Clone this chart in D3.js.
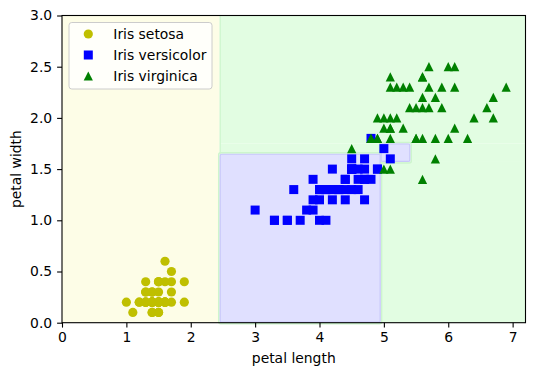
<!DOCTYPE html>
<html>
<head>
<meta charset="utf-8">
<script src="https://cdn.jsdelivr.net/npm/d3@7"></script>
<style>
  body { margin: 0; background: #fff; }
  text { font-family: "DejaVu Sans", sans-serif; fill: #000; }
</style>
</head>
<body>
<div id="chart"></div>
<script>
const width = 536, height = 376;
const margin = { top: 15.5, right: 10.5, bottom: 53.3, left: 62 };

// class names and marker colours
const classNames = ['Iris setosa', 'Iris versicolor', 'Iris virginica'];
const classColors = ['#bfbf00', '#0000ff', '#008000'];
const regionFill = ['#fdfde7', '#e0e0ff', '#e2fde2'];

// decision regions of the tree: [x0, x1, y0, y1, class]
const regions = [
  [0, 2.45, 0, 3, 0],
  [2.45, 4.95, 0, 1.65, 1],
  [2.45, 4.95, 1.65, 1.75, 2],
  [4.95, 7.2, 0, 1.57, 2],
  [5.41, 7.2, 1.57, 1.75, 2],
  [2.45, 7.2, 1.75, 3, 2],
  [4.95, 5.41, 1.57, 1.75, 1]
];

// petal length / petal width
const setosaLength = [1.4,1.4,1.3,1.5,1.4,1.7,1.4,1.5,1.4,1.5,1.5,1.6,1.4,1.1,1.2,1.5,1.3,1.4,1.7,1.5,1.7,1.5,1.0,1.7,1.9,1.6,1.6,1.5,1.4,1.6,1.6,1.5,1.5,1.4,1.5,1.2,1.3,1.4,1.3,1.5,1.3,1.3,1.3,1.6,1.9,1.4,1.6,1.4,1.5,1.4];
const setosaWidth  = [0.2,0.2,0.2,0.2,0.2,0.4,0.3,0.2,0.2,0.1,0.2,0.2,0.1,0.1,0.2,0.4,0.4,0.3,0.3,0.3,0.2,0.4,0.2,0.5,0.2,0.2,0.4,0.2,0.2,0.2,0.2,0.4,0.1,0.2,0.2,0.2,0.2,0.1,0.2,0.2,0.3,0.3,0.2,0.6,0.4,0.3,0.2,0.2,0.2,0.2];
const versicolorLength = [4.7,4.5,4.9,4.0,4.6,4.5,4.7,3.3,4.6,3.9,3.5,4.2,4.0,4.7,3.6,4.4,4.5,4.1,4.5,3.9,4.8,4.0,4.9,4.7,4.3,4.4,4.8,5.0,4.5,3.5,3.8,3.7,3.9,5.1,4.5,4.5,4.7,4.4,4.1,4.0,4.4,4.6,4.0,3.3,4.2,4.2,4.2,4.3,3.0,4.1];
const versicolorWidth  = [1.4,1.5,1.5,1.3,1.5,1.3,1.6,1.0,1.3,1.4,1.0,1.5,1.0,1.4,1.3,1.4,1.5,1.0,1.5,1.1,1.8,1.3,1.5,1.2,1.3,1.4,1.4,1.7,1.5,1.0,1.1,1.0,1.2,1.6,1.5,1.6,1.5,1.3,1.3,1.3,1.2,1.4,1.2,1.0,1.3,1.2,1.3,1.3,1.1,1.3];
const virginicaLength = [6.0,5.1,5.9,5.6,5.8,6.6,4.5,6.3,5.8,6.1,5.1,5.3,5.5,5.0,5.1,5.3,5.5,6.7,6.9,5.0,5.7,4.9,6.7,4.9,5.7,6.0,4.8,4.9,5.6,5.8,6.1,6.4,5.6,5.1,5.6,6.1,5.6,5.5,4.8,5.4,5.6,5.1,5.1,5.9,5.7,5.2,5.0,5.2,5.4,5.1];
const virginicaWidth  = [2.5,1.9,2.1,1.8,2.2,2.1,1.7,1.8,1.8,2.5,2.0,1.9,2.1,2.0,2.4,2.3,1.8,2.2,2.3,1.5,2.3,2.0,2.0,1.8,2.1,1.8,1.8,1.8,2.1,1.6,1.9,2.0,2.2,1.5,1.4,2.3,2.4,1.8,1.8,2.1,2.4,2.3,1.9,2.3,2.5,2.3,1.9,2.0,2.3,1.8];

const xTicks = [0, 1, 2, 3, 4, 5, 6, 7];
const yTicks = [0, 0.5, 1.0, 1.5, 2.0, 2.5, 3.0];

const plotW = width - margin.left - margin.right;
const plotH = height - margin.top - margin.bottom;

const xScale = d3.scaleLinear().domain([0, 7.2]).range([0, plotW]);
const yScale = d3.scaleLinear().domain([0, 3]).range([plotH, 0]);

const svg = d3.select('#chart').append('svg')
    .attr('width', width)
    .attr('height', height);

const g = svg.append('g')
    .attr('transform', 'translate(' + margin.left + ',' + margin.top + ')');

// regions
g.append('g').selectAll('rect')
    .data(regions)
    .enter().append('rect')
    .attr('x', d => xScale(d[0]))
    .attr('y', d => yScale(d[3]))
    .attr('width', d => xScale(d[1]) - xScale(d[0]))
    .attr('height', d => yScale(d[2]) - yScale(d[3]))
    .attr('fill', d => regionFill[d[4]]);

// faint contour edges: green halo outside, blue line inside the versicolor cells
const blueCells = regions.filter(d => d[4] === 1);
g.append('g').selectAll('rect')
    .data(blueCells)
    .enter().append('rect')
    .attr('x', d => xScale(d[0]) - 1)
    .attr('y', d => yScale(d[3]) - 1)
    .attr('width', d => xScale(d[1]) - xScale(d[0]) + 2)
    .attr('height', d => yScale(d[2]) - yScale(d[3]) + 2)
    .attr('rx', 2)
    .attr('fill', 'none')
    .attr('stroke', '#cdf5cd')
    .attr('stroke-width', 1.5);
g.append('g').selectAll('rect')
    .data(blueCells)
    .enter().append('rect')
    .attr('x', d => xScale(d[0]) + 0.5)
    .attr('y', d => yScale(d[3]) + 0.5)
    .attr('width', d => xScale(d[1]) - xScale(d[0]) - 1)
    .attr('height', d => yScale(d[2]) - yScale(d[3]) - 1)
    .attr('rx', 1.5)
    .attr('fill', regionFill[1])
    .attr('stroke', '#c8c8fa')
    .attr('stroke-width', 1.2);
g.append('line')
    .attr('x1', xScale(2.45) + 0.5).attr('x2', xScale(2.45) + 0.5)
    .attr('y1', 0).attr('y2', yScale(1.65))
    .attr('stroke', '#cdf5cd').attr('stroke-width', 1.2);

function drawMarker(sel, cls) {
  const c = classColors[cls];
  if (cls === 0) {
    sel.append('circle').attr('r', 4.6).attr('fill', c);
  } else if (cls === 1) {
    sel.append('rect').attr('x', -4.5).attr('y', -4.5).attr('width', 9).attr('height', 9).attr('fill', c);
  } else {
    sel.append('path').attr('d', 'M0,-4.6L4.6,4.6L-4.6,4.6Z').attr('fill', c);
  }
}

function drawPoints(lengths, widths, cls) {
  const pts = lengths.map((l, i) => [l, widths[i]]);
  g.append('g').selectAll('g')
    .data(pts)
    .enter().append('g')
    .attr('transform', d => 'translate(' + xScale(d[0]) + ',' + yScale(d[1]) + ')')
    .each(function() { drawMarker(d3.select(this), cls); });
}

drawPoints(setosaLength, setosaWidth, 0);
drawPoints(versicolorLength, versicolorWidth, 1);
drawPoints(virginicaLength, virginicaWidth, 2);

// axes
const xAxis = g.append('g')
    .attr('transform', 'translate(0,' + plotH + ')')
    .call(d3.axisBottom(xScale).tickValues(xTicks).tickFormat(d3.format('d')).tickSizeOuter(0).tickSize(4.9).tickPadding(4.9));
const yAxis = g.append('g')
    .call(d3.axisLeft(yScale).tickValues(yTicks).tickFormat(d3.format('.1f')).tickSizeOuter(0).tickSize(4.9).tickPadding(4.9));

[xAxis, yAxis].forEach(a => {
  a.selectAll('.domain').remove();
  a.selectAll('.tick line').attr('stroke', '#000').attr('stroke-width', 1.1);
  a.selectAll('.tick text').attr('font-size', '13.9px').attr('font-family', 'DejaVu Sans').attr('fill', '#000');
});

g.append('rect')
    .attr('width', plotW).attr('height', plotH)
    .attr('fill', 'none').attr('stroke', '#000').attr('stroke-width', 1.1);

// axis labels
svg.append('text')
    .attr('x', margin.left + plotW / 2)
    .attr('y', 363)
    .attr('text-anchor', 'middle')
    .attr('font-size', '13.9px')
    .text('petal length');

svg.append('text')
    .attr('transform', 'translate(21,' + (margin.top + plotH / 2) + ') rotate(-90)')
    .attr('text-anchor', 'middle')
    .attr('font-size', '13.9px')
    .text('petal width');

// legend
const legend = svg.append('g').attr('transform', 'translate(69,22.5)');
legend.append('rect')
    .attr('width', 143).attr('height', 66.5)
    .attr('rx', 2.8)
    .attr('fill', '#fff').attr('fill-opacity', 0.8)
    .attr('stroke', '#cccccc').attr('stroke-width', 1);

classNames.forEach((name, i) => {
  const row = legend.append('g').attr('transform', 'translate(0,' + (11.5 + i * 21) + ')');
  drawMarker(row.append('g').attr('transform', 'translate(19.3,0)'), i);
  row.append('text')
      .attr('x', 44.3)
      .attr('y', 5)
      .attr('font-size', '13.9px')
      .text(name);
});
</script>
</body>
</html>
